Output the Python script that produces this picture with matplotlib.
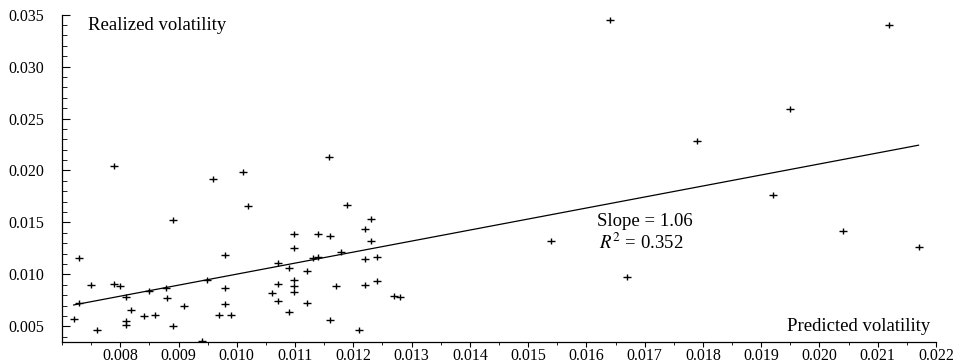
import numpy as np
import matplotlib
matplotlib.use("Agg")
import matplotlib.pyplot as plt
from matplotlib.path import Path
from matplotlib.ticker import MultipleLocator, FixedLocator

# predicted vs realized volatility
predicted = [
    0.00790, 0.00960, 0.01010, 0.01020, 0.00890, 0.00730, 0.00980, 0.00750,
    0.00789, 0.00800, 0.00949, 0.00980, 0.00879, 0.00850, 0.00730, 0.00810,
    0.00880, 0.00980, 0.00910, 0.00819, 0.00720, 0.00810, 0.00810, 0.00840,
    0.00860, 0.00970, 0.00990, 0.00760, 0.00890, 0.00940,
    0.01159, 0.01189, 0.01230, 0.01099, 0.01140, 0.01160, 0.01220, 0.01230,
    0.01099, 0.01179, 0.01130, 0.01140, 0.01220, 0.01240, 0.01070, 0.01090,
    0.01120, 0.01099, 0.01070, 0.01099, 0.01099, 0.01060, 0.01170, 0.01220,
    0.01240, 0.01070, 0.01120, 0.01090, 0.01269, 0.01280, 0.01160, 0.01210,
    0.01640, 0.02120, 0.01950, 0.01790, 0.01920, 0.02040, 0.02170, 0.01540,
    0.01670,
]
realized = [
    0.0204, 0.0192, 0.0199, 0.0166, 0.0152, 0.0116, 0.0119, 0.0090,
    0.0091, 0.0089, 0.0095, 0.0087, 0.0087, 0.0084, 0.0073, 0.0078,
    0.0077, 0.0072, 0.0070, 0.0066, 0.0057, 0.0055, 0.0051, 0.0060,
    0.0061, 0.0061, 0.0061, 0.0047, 0.0050, 0.0036,
    0.0213, 0.0167, 0.0153, 0.0139, 0.0139, 0.0137, 0.0144, 0.0132,
    0.0125, 0.0122, 0.0116, 0.0117, 0.0115, 0.0117, 0.0111, 0.0106,
    0.0103, 0.0095, 0.0091, 0.0089, 0.0083, 0.0082, 0.0089, 0.0090,
    0.0094, 0.0074, 0.0073, 0.0064, 0.0079, 0.0078, 0.0056, 0.0047,
    0.0345, 0.0340, 0.0259, 0.0228, 0.0176, 0.0142, 0.0126, 0.0132,
    0.0098,
]
slope = 1.06
intercept = -0.00057
r2 = 0.352

x_major = np.arange(0.008, 0.0221, 0.001)
y_major = np.arange(0.005, 0.0351, 0.005)

plt.rcParams['font.family'] = ['Liberation Serif', 'DejaVu Serif']
plt.rcParams['mathtext.fontset'] = 'stix'

# small plus, a bit wider than tall like the original
plus = Path([(-1, 0), (1, 0), (0, -0.7), (0, 0.7)],
            [Path.MOVETO, Path.LINETO, Path.MOVETO, Path.LINETO])

fig = plt.figure(figsize=(9.61, 3.64), dpi=100)
ax = fig.add_axes([0.0645, 0.0604, 0.9095, 0.8996])

ax.plot(predicted, realized, linestyle='none', marker=plus, markersize=5.2,
        markeredgewidth=1.0, color='black')

xs = np.array([min(predicted), max(predicted)])
ax.plot(xs, slope * xs + intercept, color='black', linewidth=0.9)

ax.set_xlim(0.007, 0.022)
ax.set_ylim(0.0035, 0.035)

for s in ['top', 'right']:
    ax.spines[s].set_visible(False)
for s in ['left', 'bottom']:
    ax.spines[s].set_linewidth(0.9)

ax.xaxis.set_major_locator(FixedLocator(x_major))
ax.xaxis.set_minor_locator(MultipleLocator(0.0005))
ax.yaxis.set_major_locator(FixedLocator(y_major))
ax.yaxis.set_minor_locator(MultipleLocator(0.001))
ax.set_xticklabels(['%.3f' % v for v in x_major])
ax.set_yticklabels(['%.3f' % v for v in y_major])

ax.tick_params(axis='x', which='major', direction='out', length=3.5, width=0.8,
               labelsize=11.5, pad=0.5)
ax.tick_params(axis='x', which='minor', direction='out', length=2, width=0.6)
ax.tick_params(axis='y', which='major', direction='in', length=6, width=0.8,
               labelsize=11.5, pad=13)
ax.tick_params(axis='y', which='minor', direction='in', length=3.5, width=0.6)

ax.text(0.0297, 0.968, 'Realized volatility', transform=ax.transAxes,
        ha='left', va='center', fontsize=13.5)
ax.text(0.993, 0.046, 'Predicted volatility', transform=ax.transAxes,
        ha='right', va='center', fontsize=13.5)

ax.text(0.01618, 0.01508, 'Slope = %.2f' % slope, ha='left', va='center',
        fontsize=13.5)
ax.text(0.01622, 0.01303, r'$R^2$ = %.3f' % r2, ha='left', va='center',
        fontsize=13.5)

fig.savefig('out.png', dpi=100)
